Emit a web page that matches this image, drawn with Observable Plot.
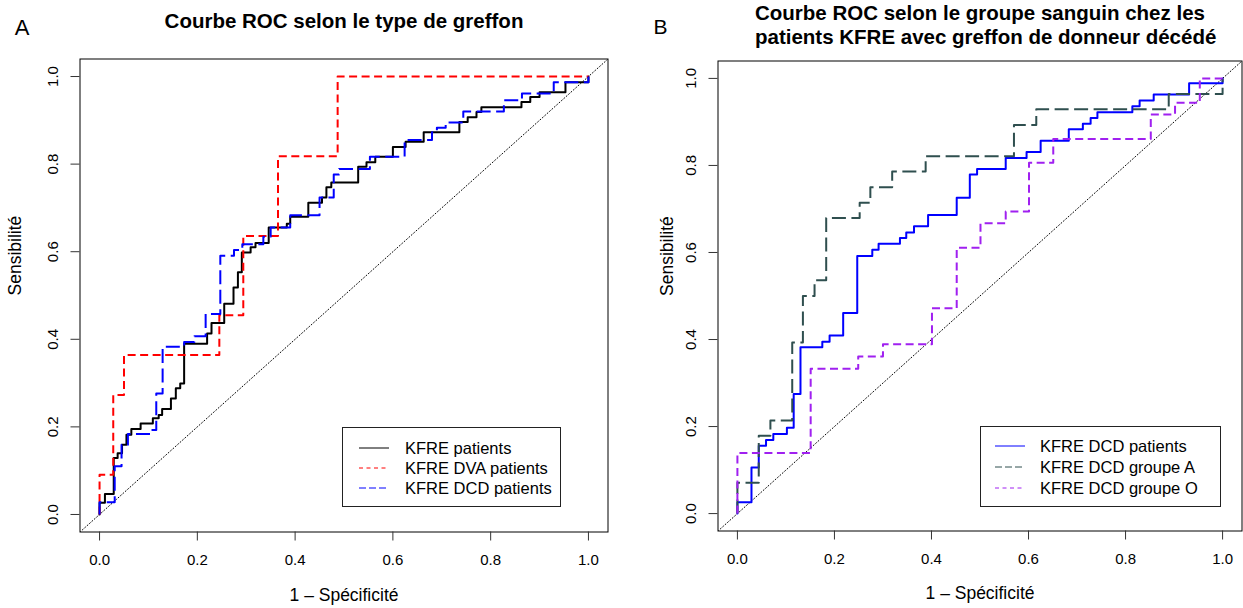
<!DOCTYPE html>
<html>
<head>
<meta charset="utf-8">
<script src="https://cdn.jsdelivr.net/npm/d3@7"></script>
<script src="https://cdn.jsdelivr.net/npm/@observablehq/plot@0.6"></script>
<style>
  html, body { margin: 0; padding: 0; background: #fff; }
  #wrap { position: relative; width: 1243px; height: 608px; overflow: hidden; background: #fff; }
  .panel { position: absolute; top: 0; }
  .legend { position: absolute; }
</style>
</head>
<body>
<div id="wrap"></div>
<script>
const FONT = '"Liberation Sans", Arial, Helvetica, sans-serif';

// ---------- tick values / labels ----------
const tickValues = [0, 0.2, 0.4, 0.6, 0.8, 1.0];
const tickLabels = ["0.0", "0.2", "0.4", "0.6", "0.8", "1.0"];

// ---------- Panel A : ROC by graft type ([1 - specificity, sensitivity]) ----------
const kfreAll = [[0,0],[0,.027],[.011,.027],[.011,.047],[.029,.047],[.029,.129],[.037,.129],[.037,.140],[.046,.140],[.046,.159],[.055,.159],[.055,.182],[.065,.182],[.065,.195],[.084,.195],[.084,.208],[.109,.208],[.109,.220],[.121,.220],[.121,.227],[.128,.227],[.128,.241],[.146,.241],[.146,.265],[.156,.265],[.156,.288],[.165,.288],[.165,.299],[.173,.299],[.173,.390],[.220,.390],[.220,.413],[.229,.413],[.229,.437],[.255,.437],[.255,.481],[.274,.481],[.274,.518],[.283,.518],[.283,.553],[.291,.553],[.291,.598],[.309,.598],[.309,.610],[.319,.610],[.319,.620],[.346,.620],[.346,.655],[.383,.655],[.383,.664],[.390,.664],[.390,.680],[.427,.680],[.427,.712],[.455,.712],[.455,.724],[.464,.724],[.464,.747],[.474,.747],[.474,.758],[.529,.758],[.529,.794],[.546,.794],[.546,.804],[.564,.804],[.564,.817],[.600,.817],[.600,.839],[.626,.839],[.626,.851],[.663,.851],[.663,.873],[.736,.873],[.736,.896],[.753,.896],[.753,.907],[.771,.907],[.771,.919],[.781,.919],[.781,.930],[.863,.930],[.863,.942],[.881,.942],[.881,.953],[.900,.953],[.900,.964],[.953,.964],[.953,.987],[1,.987],[1,1]];

const kfreDVA = [[0,0],[0,.091],[.028,.091],[.028,.273],[.050,.273],[.050,.364],[.245,.364],[.245,.455],[.294,.455],[.294,.636],[.365,.636],[.365,.818],[.487,.818],[.487,1],[1,1]];

const kfreDCD_A = [[0,0],[0,.028],[.031,.028],[.031,.110],[.045,.110],[.045,.159],[.058,.159],[.058,.184],[.105,.184],[.105,.193],[.116,.193],[.116,.276],[.129,.276],[.129,.383],[.173,.383],[.173,.394],[.194,.394],[.194,.407],[.217,.407],[.217,.458],[.247,.458],[.247,.591],[.275,.591],[.275,.604],[.292,.604],[.292,.617],[.335,.617],[.335,.634],[.350,.634],[.350,.655],[.390,.655],[.390,.683],[.450,.683],[.450,.724],[.479,.724],[.479,.776],[.490,.776],[.490,.789],[.553,.789],[.553,.817],[.624,.817],[.624,.855],[.680,.855],[.680,.873],[.690,.873],[.690,.883],[.708,.883],[.708,.895],[.744,.895],[.744,.920],[.827,.920],[.827,.946],[.864,.946],[.864,.961],[.929,.961],[.929,.987],[1,.987],[1,1]];

// ---------- Panel B : ROC by blood group (DCD graft) ----------
const dcdAll = [[0,0],[0,.026],[.029,.026],[.029,.106],[.044,.106],[.044,.156],[.059,.156],[.059,.169],[.074,.169],[.074,.183],[.102,.183],[.102,.197],[.116,.197],[.116,.275],[.130,.275],[.130,.382],[.175,.382],[.175,.395],[.190,.395],[.190,.409],[.218,.409],[.218,.461],[.247,.461],[.247,.592],[.278,.592],[.278,.606],[.291,.606],[.291,.620],[.335,.620],[.335,.633],[.348,.633],[.348,.646],[.364,.646],[.364,.660],[.393,.660],[.393,.686],[.452,.686],[.452,.726],[.479,.726],[.479,.779],[.494,.779],[.494,.792],[.553,.792],[.553,.817],[.596,.817],[.596,.831],[.625,.831],[.625,.857],[.683,.857],[.683,.883],[.712,.883],[.712,.896],[.728,.896],[.728,.909],[.742,.909],[.742,.922],[.814,.922],[.814,.936],[.829,.936],[.829,.949],[.858,.949],[.858,.963],[.931,.963],[.931,.989],[1,.989],[1,1]];

const dcdGroupA = [[0,0],[0,.071],[.044,.071],[.044,.179],[.068,.179],[.068,.214],[.113,.214],[.113,.393],[.135,.393],[.135,.500],[.159,.500],[.159,.536],[.183,.536],[.183,.679],[.252,.679],[.252,.714],[.274,.714],[.274,.750],[.319,.750],[.319,.786],[.388,.786],[.388,.821],[.570,.821],[.570,.893],[.616,.893],[.616,.929],[.889,.929],[.889,.964],[1,.964],[1,1]];

const dcdGroupO = [[0,0],[0,.139],[.151,.139],[.151,.333],[.249,.333],[.249,.361],[.300,.361],[.300,.389],[.401,.389],[.401,.472],[.452,.472],[.452,.611],[.501,.611],[.501,.667],[.553,.667],[.553,.694],[.601,.694],[.601,.806],[.651,.806],[.651,.861],[.852,.861],[.852,.917],[.902,.917],[.902,.944],[.953,.944],[.953,1],[1,1]];

// ---------- text ----------
const titleA = "Courbe ROC selon le type de greffon";
const titleB = ["Courbe ROC selon le groupe sanguin chez les", "patients KFRE avec greffon de donneur décédé"];
const xTitle = "1 \u2013 Spécificité";
const yTitle = "Sensibilité";
const legendA = ["KFRE patients", "KFRE DVA patients", "KFRE DCD patients"];
const legendB = ["KFRE DCD patients", "KFRE DCD groupe A", "KFRE DCD groupe O"];

// ---------- helpers ----------
const dom = [-0.04, 1.04];
const diag = dom.map(v => ({x: v, y: v}));
const rows = pairs => pairs.map(([x, y]) => ({x, y}));

function panel(o) {
  const marks = [
    Plot.line(diag, {x: "x", y: "y", stroke: "black", strokeWidth: 1, strokeDasharray: "1,2.2", clip: true}),
    ...o.curves.map(c => Plot.line(rows(c.data), {
      x: "x", y: "y", stroke: c.color, strokeWidth: 2,
      strokeDasharray: c.dash, strokeLinecap: c.dash ? "butt" : "round", strokeLinejoin: "round"
    })),
    Plot.frame({stroke: "black", strokeWidth: 1}),
    Plot.axisX({ticks: tickValues, tickSize: 9, tickFormat: () => "", label: null, stroke: "#333"}),
    Plot.axisY({ticks: tickValues, tickSize: 9, tickFormat: () => "", label: null, stroke: "#333"}),
    Plot.text(tickValues, {frameAnchor: "bottom", x: d => d, text: (d, i) => tickLabels[i], dy: 28.5, lineAnchor: "middle", fontSize: 15}),
    Plot.text(tickValues, {frameAnchor: "left", y: d => d, text: (d, i) => tickLabels[i], dx: -26.5, rotate: -90, textAnchor: "middle", lineAnchor: "middle", fontSize: 15}),
    Plot.text([xTitle], {frameAnchor: "bottom", text: d => d, dy: o.xTitleDy, lineAnchor: "middle", fontSize: 17.5}),
    Plot.text([yTitle], {frameAnchor: "left", text: d => d, dx: o.yTitleDx, rotate: -90, lineAnchor: "middle", fontSize: 17.5}),
    Plot.text([o.letter], {frameAnchor: "top-left", text: d => d, dx: o.letterDx, dy: o.letterDy, lineAnchor: "middle", textAnchor: "middle", fontSize: o.letterSize})
  ];
  o.titles.forEach(t => marks.push(
    Plot.text([t.text], {frameAnchor: t.anchor, text: d => d, dx: t.dx, dy: t.dy, textAnchor: t.textAnchor, lineAnchor: "middle", fontSize: 20.5, fontWeight: "bold"})
  ));
  const svg = Plot.plot({
    width: 621, height: 608,
    marginLeft: o.ml, marginRight: o.mr, marginTop: o.mt, marginBottom: o.mb,
    x: {domain: dom}, y: {domain: dom},
    style: {fontFamily: FONT, fontSize: "15px", background: "transparent", overflow: "visible", color: "black"},
    marks
  });
  svg.classList.add("panel");
  svg.style.left = o.left + "px";
  return svg;
}

function legend(o) {
  const svg = d3.create("svg")
    .attr("class", "legend")
    .attr("width", o.w + 2).attr("height", o.h + 2)
    .style("left", (o.left - 1) + "px").style("top", (o.top - 1) + "px");
  svg.append("rect").attr("x", 1.5).attr("y", 1.5).attr("width", o.w - 1).attr("height", o.h - 1)
    .attr("fill", "white").attr("stroke", "#222").attr("stroke-width", 1);
  o.items.forEach((it, i) => {
    const y = o.rowY[i] - o.top + 1;
    svg.append("line").attr("x1", o.lineX1 - o.left + 1).attr("x2", o.lineX2 - o.left + 1)
      .attr("y1", y).attr("y2", y).attr("stroke", it.color).attr("stroke-width", 1)
      .attr("stroke-dasharray", it.dash || null);
    svg.append("text").attr("x", o.textX - o.left + 1).attr("y", y + 5.9)
      .attr("font-family", FONT).attr("font-size", 16.5).attr("fill", "black").text(it.label);
  });
  return svg.node();
}

const wrap = document.getElementById("wrap");

wrap.appendChild(panel({
  left: 0, ml: 79.5, mr: 13.5, mt: 58.5, mb: 76.5,
  curves: [
    {data: kfreAll, color: "black"},
    {data: kfreDVA, color: "#ff0000", dash: "8,4.5"},
    {data: kfreDCD_A, color: "#0000ff", dash: "14,5.5"}
  ],
  xTitleDy: 63.5, yTitleDx: -64.5,
  letter: "A", letterDx: -57.8, letterDy: -31.5, letterSize: 22,
  titles: [{text: titleA, anchor: "top", dx: 0, dy: -37.5, textAnchor: "middle"}]
}));

wrap.appendChild(panel({
  left: 622, ml: 95.5, mr: 1.5, mt: 60.5, mb: 77.5,
  curves: [
    {data: dcdAll, color: "#0000ff"},
    {data: dcdGroupA, color: "#2f4f4f", dash: "14,5.5"},
    {data: dcdGroupO, color: "#a020f0", dash: "8,4.5"}
  ],
  xTitleDy: 62.5, yTitleDx: -50.5,
  letter: "B", letterDx: -57.5, letterDy: -33.5, letterSize: 21,
  titles: [
    {text: titleB[0], anchor: "top-left", dx: 37, dy: -48, textAnchor: "start"},
    {text: titleB[1], anchor: "top-left", dx: 37, dy: -24, textAnchor: "start"}
  ]
}));

wrap.appendChild(legend({
  left: 342, top: 427, w: 219, h: 80, rowY: [448, 468, 488],
  lineX1: 359, lineX2: 389, textX: 405,
  items: [
    {label: legendA[0], color: "black"},
    {label: legendA[1], color: "#ff0000", dash: "4,3.5"},
    {label: legendA[2], color: "#0000ff", dash: "7,3"}
  ]
}));

wrap.appendChild(legend({
  left: 980, top: 426, w: 241, h: 81, rowY: [446, 467, 488],
  lineX1: 995, lineX2: 1025, textX: 1040,
  items: [
    {label: legendB[0], color: "#0000ff"},
    {label: legendB[1], color: "#2f4f4f", dash: "7,3"},
    {label: legendB[2], color: "#a020f0", dash: "4,3.5"}
  ]
}));
</script>
</body>
</html>
